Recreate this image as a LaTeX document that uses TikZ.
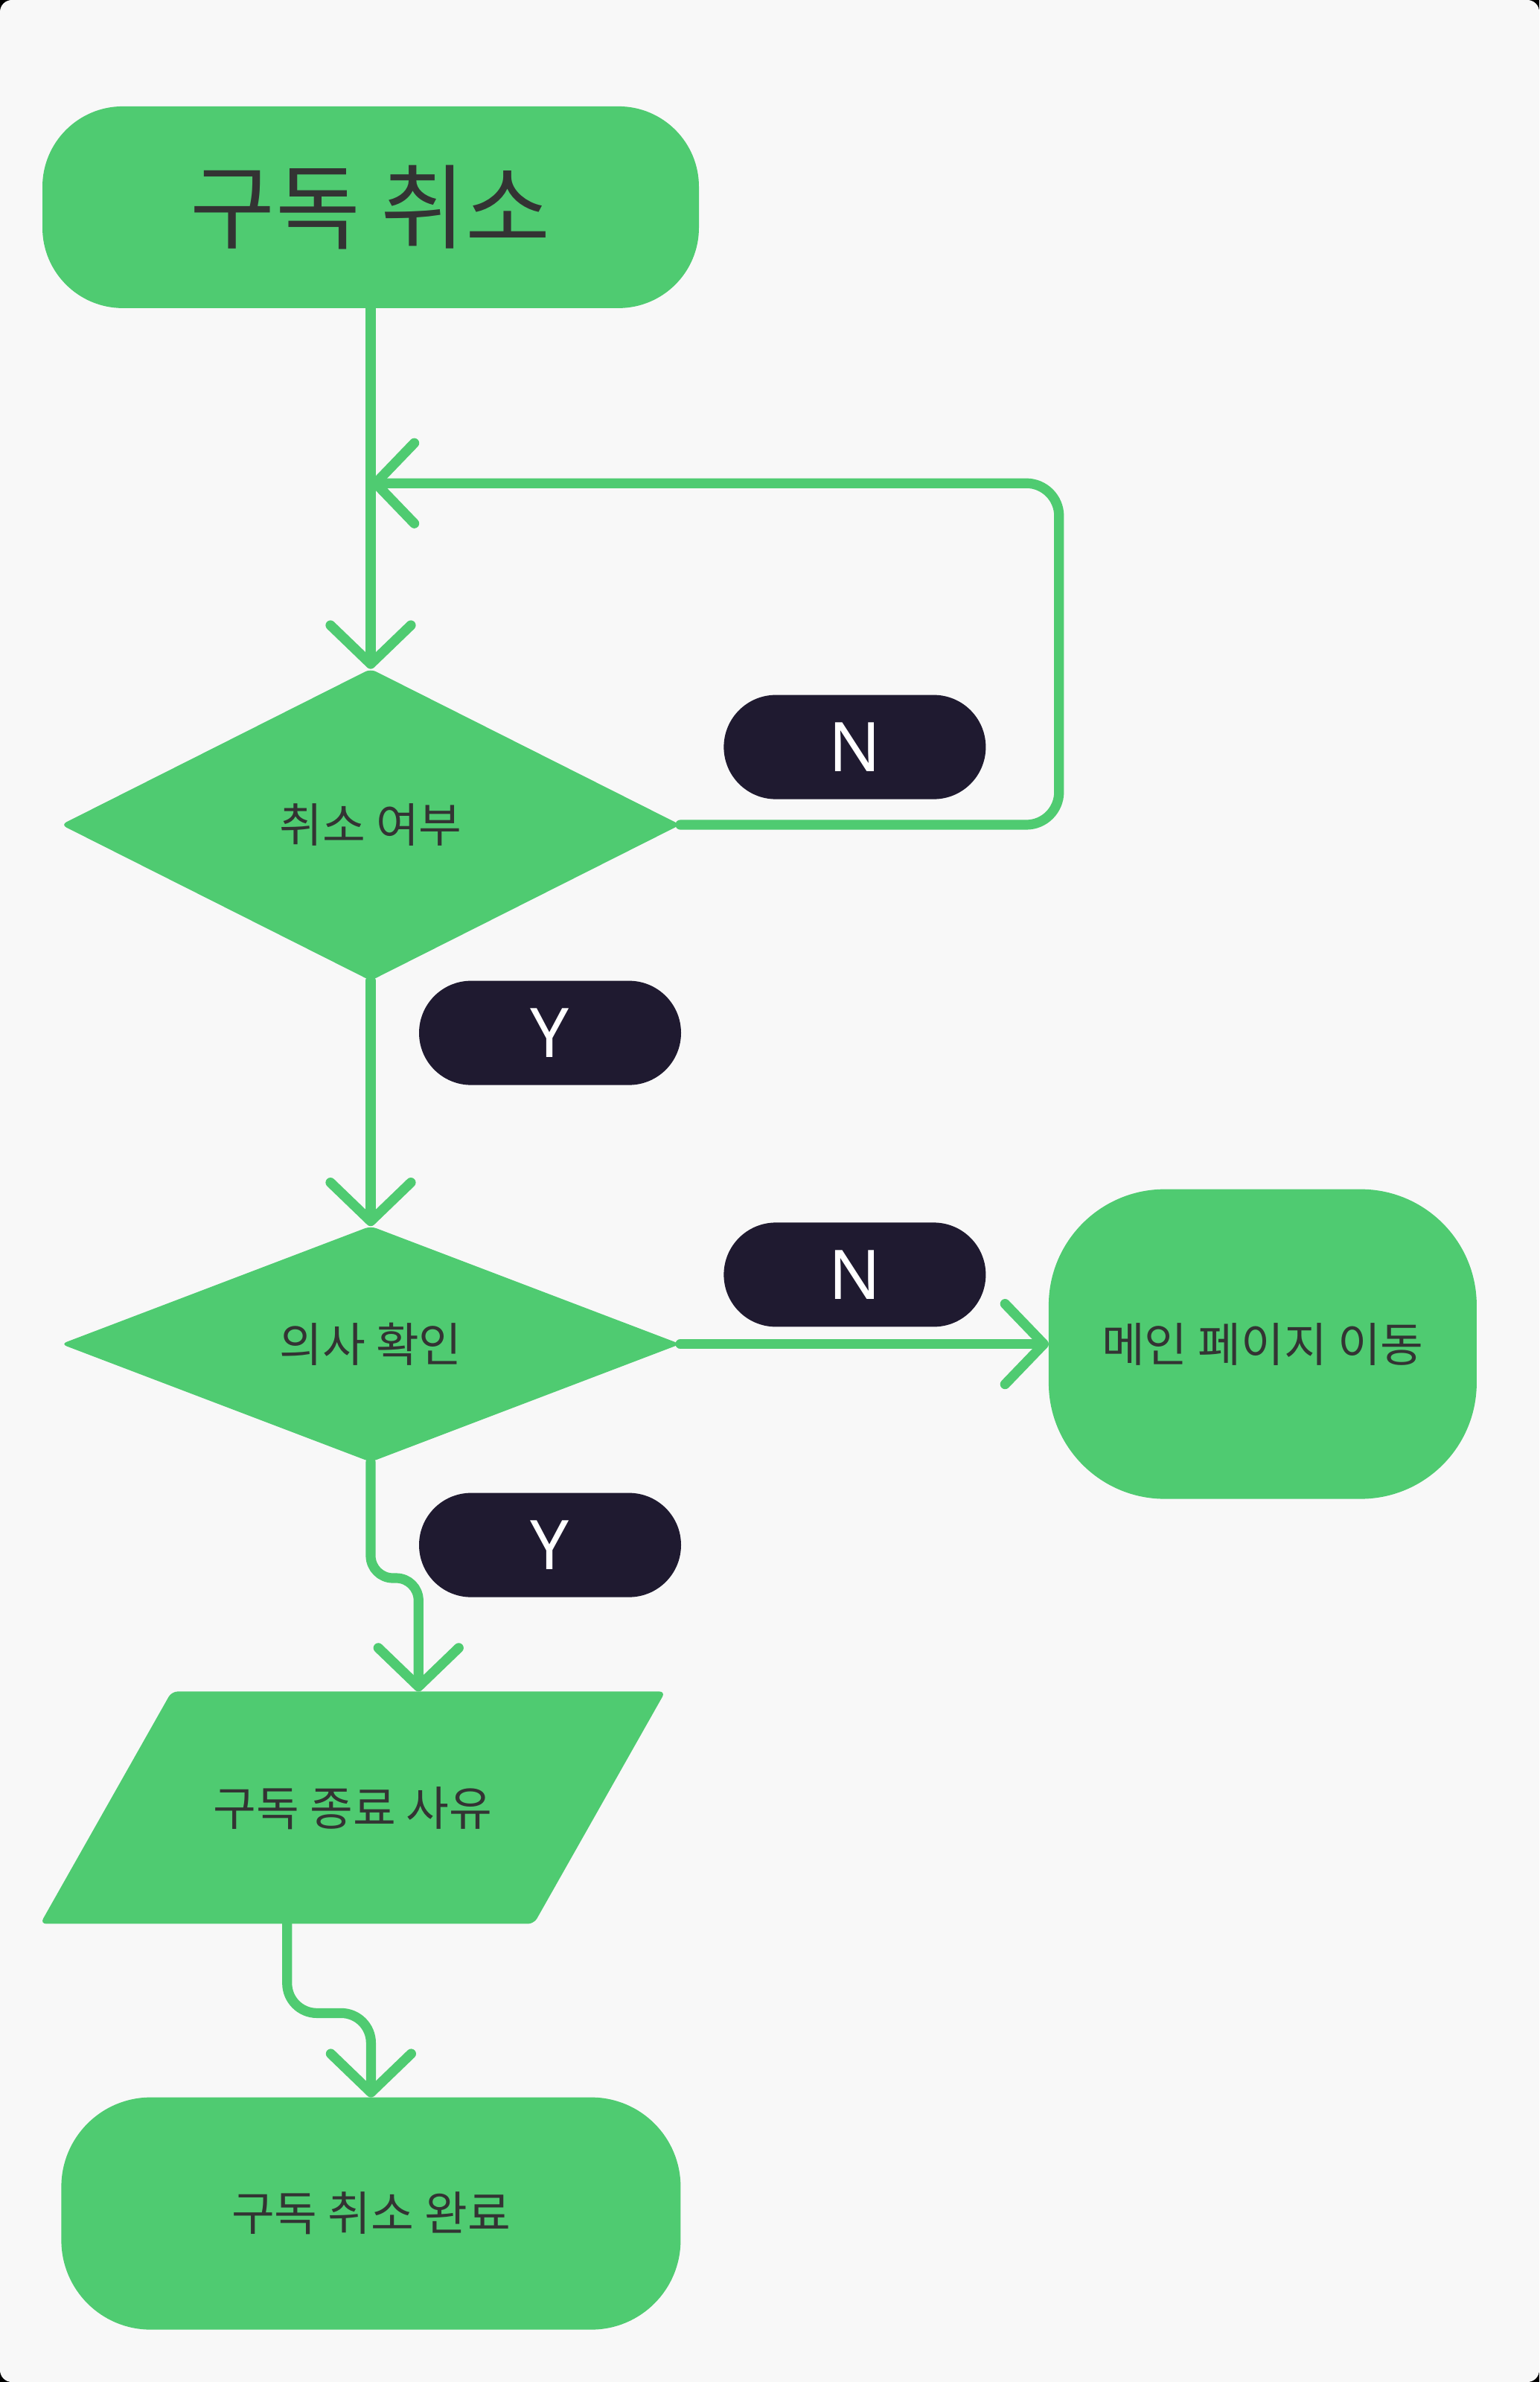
\documentclass[tikz,border=0pt]{standalone}
\usepackage{fontspec}
\setmainfont{Noto Sans}
\newfontfamily\kr{Noto Sans CJK KR}
\usetikzlibrary{arrows.meta,shapes.geometric}
\definecolor{flow}{HTML}{4FCB71}
\definecolor{tag}{HTML}{1F1A30}
\definecolor{ink}{HTML}{333333}
\definecolor{paper}{HTML}{F8F8F8}

\begin{document}
\begin{tikzpicture}
   \tikzstyle{every node}=[inner sep=0pt, outer sep=0pt, align=center]
   \tikzstyle{term}=[fill=flow, text=ink, font=\kr\fontsize{15.7}{18}\selectfont]
   \tikzstyle{ask}=[term, diamond, minimum width=208pt, rounded corners=2pt]
   \tikzstyle{tagbox}=[fill=tag, text=white, minimum width=88pt, minimum height=35pt, rounded corners=17.5pt, font=\fontsize{23}{26}\selectfont]
   \tikzstyle{conn}=[draw=flow, line width=3.3pt, line cap=round, line join=round, -{Straight Barb[length=13pt,width=27pt,round]}]

\useasboundingbox (0,0) rectangle (517pt,-800pt);
\fill[black] (0,0) rectangle (517pt,-800pt);
\fill[paper, rounded corners=4pt] (0,0) rectangle (517pt,-800pt);

\node[term, minimum width=220.5pt, minimum height=67.75pt, rounded corners=27pt, font=\kr\fontsize{31}{34}\selectfont] (start) at (124.5pt,-69.6pt) {구독 취소};
\node[ask, minimum height=104.7pt] (q1) at (124.5pt,-277pt) {취소 여부};
\node[ask, minimum height=79.2pt] (q2) at (124.5pt,-451.4pt) {의사 확인};
\node[term, minimum width=143.75pt, minimum height=104pt, rounded corners=39pt] (main) at (424.1pt,-451.4pt) {메인 페이지 이동};
\node[term, trapezium, trapezium left angle=60.5, trapezium right angle=119.5, inner xsep=14pt, text height=45pt, text depth=33pt, rounded corners=2pt] (reason) at (118.5pt,-607.1pt) {구독 종료 사유};
\node[term, minimum width=208pt, minimum height=78pt, rounded corners=30pt] (done) at (124.6pt,-743.4pt) {구독 취소 완료};

\node[tagbox] (n1) at (287.1pt,-250.9pt) {N};
\node[tagbox] (y1) at (184.75pt,-346.9pt) {Y};
\node[tagbox] (n2) at (287.1pt,-428.1pt) {N};
\node[tagbox] (y2) at (184.75pt,-518.9pt) {Y};

\coordinate (merge) at (124.5pt,-162.3pt);
\coordinate (turn) at (355.7pt,-162.3pt);

\draw[conn] (start) -- (q1);
\draw[conn, rounded corners=11pt] (q1.east) -| (turn) -- (merge);
\draw[conn] (q1) -- (q2);
\draw[conn] (q2) -- (main);
\draw[conn, rounded corners=7.5pt] (q2.south) -- ([yshift=-39pt]q2.south) -| (reason.top side);
\draw[conn, rounded corners=10pt] (reason.bottom side) -- ([yshift=-30pt]reason.bottom side) -| (done.north);

\end{tikzpicture}
\end{document}
